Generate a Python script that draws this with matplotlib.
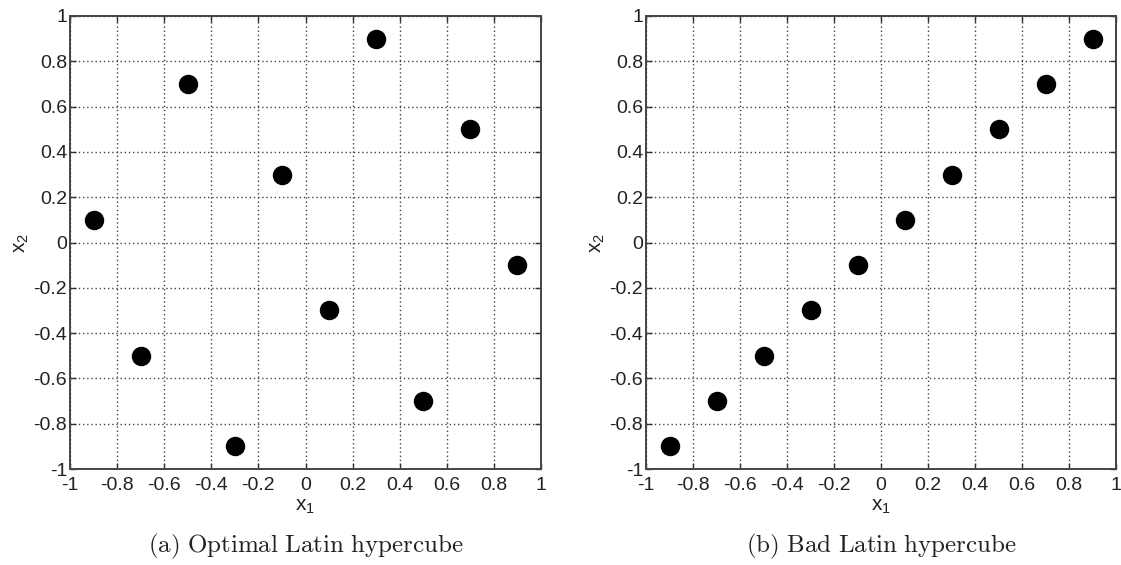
import numpy as np
import matplotlib.pyplot as plt

plt.rcParams['font.family'] = ['Liberation Sans', 'DejaVu Sans']
plt.rcParams['mathtext.fontset'] = 'custom'
plt.rcParams['mathtext.rm'] = 'Liberation Sans'
plt.rcParams['mathtext.it'] = 'Liberation Sans'

# sample points, 10 levels per dimension
opt_x1 = [-0.9, -0.7, -0.5, -0.3, -0.1, 0.1, 0.3, 0.5, 0.7, 0.9]
opt_x2 = [0.1, -0.5, 0.7, -0.9, 0.3, -0.3, 0.9, -0.7, 0.5, -0.1]
bad_x1 = [-0.9, -0.7, -0.5, -0.3, -0.1, 0.1, 0.3, 0.5, 0.7, 0.9]
bad_x2 = [-0.9, -0.7, -0.5, -0.3, -0.1, 0.1, 0.3, 0.5, 0.7, 0.9]

ticks = np.round(np.arange(-1, 1.01, 0.2), 1)
ticklabels = ['-1', '-0.8', '-0.6', '-0.4', '-0.2', '0', '0.2', '0.4', '0.6', '0.8', '1']
captions = [r'$\mathrm{(a)\ Optimal\ Latin\ hypercube}$', r'$\mathrm{(b)\ Bad\ Latin\ hypercube}$']

fig = plt.figure(figsize=(11.21, 5.65), dpi=100)
ax1 = fig.add_axes([70/1121, 1-469/565, 471/1121, 453/565])
ax2 = fig.add_axes([646/1121, 1-469/565, 470/1121, 453/565])

for ax, x, y, cap in [(ax1, opt_x1, opt_x2, captions[0]), (ax2, bad_x1, bad_x2, captions[1])]:
    ax.scatter(x, y, s=13**2, c='black', zorder=3)
    ax.set_xlim(-1, 1)
    ax.set_ylim(-1, 1)
    ax.set_xticks(ticks)
    ax.set_yticks(ticks)
    ax.set_xticklabels(ticklabels)
    ax.set_yticklabels(ticklabels)
    ax.tick_params(direction='in', top=True, right=True, length=4, width=1,
                   labelsize=14, color='#333333', labelcolor='#222222')
    ax.tick_params(axis='x', pad=6)
    ax.tick_params(axis='y', pad=2)
    ax.grid(True, linestyle=(0, (1, 2)), color='#444444', linewidth=1.0)
    for sp in ax.spines.values():
        sp.set_color('#444444')
        sp.set_linewidth(1.4)
    ax.set_xlabel(r'x$_{1}$', fontsize=15, labelpad=2, color='#222222')
    ax.set_ylabel(r'x$_{2}$', fontsize=15, labelpad=2, color='#222222')
    pos = ax.get_position()
    fig.text((pos.x0 + pos.x1) / 2, 1 - 546/565, cap, ha='center', va='center',
             fontsize=18, math_fontfamily='cm', color='#222222')

fig.savefig('out.png', dpi=100)
